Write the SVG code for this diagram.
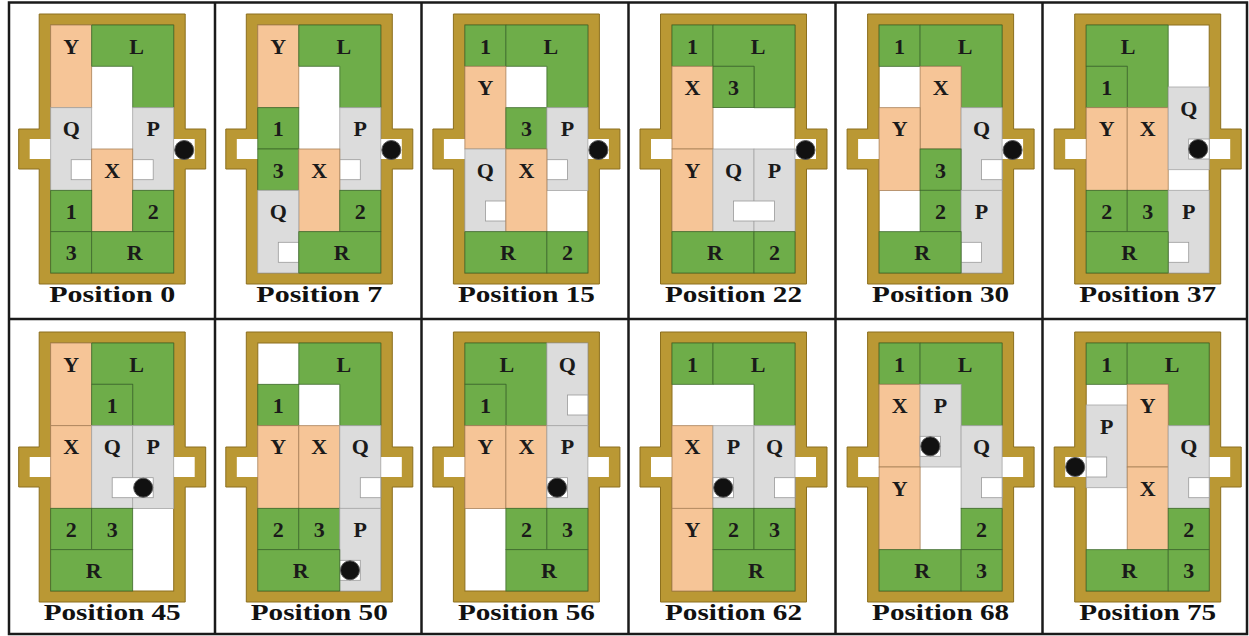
<svg xmlns="http://www.w3.org/2000/svg" width="1249" height="636" viewBox="0 0 1249 636">
<style>
.g{fill:#6EAD49;stroke:#3E6A2C;stroke-width:0.8}
.o{fill:#F6C597;stroke:#A98058;stroke-width:0.8}
.q{fill:#DCDCDC;stroke:#A6A6A6;stroke-width:0.8}
.n{fill:#FFFFFF;stroke:#9A9A9A;stroke-width:0.8}
.fr{fill:#BA9834;stroke:#8C6F1E;stroke-width:1}
.bd{fill:#FFFFFF;stroke:#8C6F1E;stroke-width:1}
.hole{fill:#FFFFFF}
.t{font-family:'Liberation Serif',serif;font-weight:700;font-size:22px;text-anchor:middle;fill:#1A1A1A}
.cap{font-family:'Liberation Serif',serif;font-weight:700;font-size:24px;text-anchor:middle;fill:#111}
.ball{fill:#111;stroke:#555;stroke-width:1}
.grid{stroke:#1A1A1A;stroke-width:2.5;fill:none}
</style>
<defs>
<g id="frame">
<path class="fr" d="M-11.5,-11 H134.5 V104 H155 V144 H134.5 V259 H-11.5 V144 H-32 V104 H-11.5 Z"/>
<rect class="bd" x="0" y="0" width="123" height="248"/>
<rect class="hole" x="-21" y="114" width="21.5" height="20"/>
<rect class="hole" x="122.5" y="114" width="21.5" height="20"/>
</g>
<path id="Ls" class="g" d="M41,0 H123 V82.7 H82 V41.3 H41 Z"/>
<path id="Lm" class="g" d="M0,0 H82 V82.7 H41 V41.3 H0 Z"/>
<circle id="ball" class="ball" r="9.5"/>
</defs>

<g id="table" class="grid">
<rect x="9" y="2.5" width="1238" height="631.5"/>
<line x1="9" y1="319" x2="1247" y2="319"/>
<line x1="215" y1="2.5" x2="215" y2="634"/>
<line x1="421.5" y1="2.5" x2="421.5" y2="634"/>
<line x1="628.5" y1="2.5" x2="628.5" y2="634"/>
<line x1="835.5" y1="2.5" x2="835.5" y2="634"/>
<line x1="1042.5" y1="2.5" x2="1042.5" y2="634"/>
</g>

<g id="pos0" transform="translate(50.7,25)">
<use href="#frame"/>
<rect class="o" x="0" y="0" width="41" height="82.7"/>
<use href="#Ls"/>
<rect class="q" x="0" y="82.7" width="41" height="82.7"/>
<rect class="n" x="20.5" y="134.7" width="20.5" height="20"/>
<rect class="q" x="82" y="82.7" width="41" height="82.7"/>
<rect class="n" x="82" y="134.7" width="20.5" height="20"/>
<rect class="o" x="41" y="124" width="41" height="82.7"/>
<rect class="g" x="0" y="165.3" width="41" height="41.3"/>
<rect class="g" x="82" y="165.3" width="41" height="41.3"/>
<rect class="g" x="0" y="206.7" width="41" height="41.3"/>
<rect class="g" x="41" y="206.7" width="82" height="41.3"/>
<text class="t" x="20.5" y="28.5">Y</text><text class="t" x="86" y="28.5">L</text>
<text class="t" x="20.5" y="111">Q</text><text class="t" x="102.5" y="111">P</text>
<text class="t" x="61.5" y="152.5">X</text>
<text class="t" x="20.5" y="194">1</text><text class="t" x="102.5" y="194">2</text>
<text class="t" x="20.5" y="235">3</text><text class="t" x="84" y="235">R</text>
<use href="#ball" x="133.5" y="125"/>
<text class="cap" x="61.5" y="277" textLength="126" lengthAdjust="spacingAndGlyphs">Position 0</text>
</g>

<g id="pos7" transform="translate(257.8,25)">
<use href="#frame"/>
<rect class="o" x="0" y="0" width="41" height="82.7"/>
<use href="#Ls"/>
<rect class="g" x="0" y="82.7" width="41" height="41.3"/>
<rect class="g" x="0" y="124" width="41" height="41.3"/>
<rect class="q" x="82" y="82.7" width="41" height="82.7"/>
<rect class="n" x="82" y="134.7" width="20.5" height="20"/>
<rect class="o" x="41" y="124" width="41" height="82.7"/>
<rect class="q" x="0" y="165.3" width="41" height="82.7"/>
<rect class="n" x="20.5" y="217.3" width="20.5" height="20"/>
<rect class="g" x="82" y="165.3" width="41" height="41.3"/>
<rect class="g" x="41" y="206.7" width="82" height="41.3"/>
<text class="t" x="20.5" y="28.5">Y</text><text class="t" x="86" y="28.5">L</text>
<text class="t" x="20.5" y="111">1</text><text class="t" x="102.5" y="111">P</text>
<text class="t" x="20.5" y="152.5">3</text><text class="t" x="61.5" y="152.5">X</text>
<text class="t" x="20.5" y="194">Q</text><text class="t" x="102.5" y="194">2</text>
<text class="t" x="84" y="235">R</text>
<use href="#ball" x="133.5" y="125"/>
<text class="cap" x="61.5" y="277" textLength="126" lengthAdjust="spacingAndGlyphs">Position 7</text>
</g>

<g id="pos15" transform="translate(464.9,25)">
<use href="#frame"/>
<rect class="g" x="0" y="0" width="41" height="41.3"/>
<use href="#Ls"/>
<rect class="o" x="0" y="41.3" width="41" height="82.7"/>
<rect class="g" x="41" y="82.7" width="41" height="41.3"/>
<rect class="q" x="82" y="82.7" width="41" height="82.7"/>
<rect class="n" x="82" y="134.7" width="20.5" height="20"/>
<rect class="q" x="0" y="124" width="41" height="82.7"/>
<rect class="n" x="20.5" y="176" width="20.5" height="20"/>
<rect class="o" x="41" y="124" width="41" height="82.7"/>
<rect class="g" x="0" y="206.7" width="82" height="41.3"/>
<rect class="g" x="82" y="206.7" width="41" height="41.3"/>
<text class="t" x="20.5" y="28.5">1</text><text class="t" x="86" y="28.5">L</text>
<text class="t" x="20.5" y="70">Y</text>
<text class="t" x="61.5" y="111">3</text><text class="t" x="102.5" y="111">P</text>
<text class="t" x="20.5" y="152.5">Q</text><text class="t" x="61.5" y="152.5">X</text>
<text class="t" x="43" y="235">R</text><text class="t" x="102.5" y="235">2</text>
<use href="#ball" x="133.5" y="125"/>
<text class="cap" x="61.5" y="277" textLength="137" lengthAdjust="spacingAndGlyphs">Position 15</text>
</g>

<g id="pos22" transform="translate(672,25)">
<use href="#frame"/>
<rect class="g" x="0" y="0" width="41" height="41.3"/>
<use href="#Ls"/>
<rect class="o" x="0" y="41.3" width="41" height="82.7"/>
<rect class="g" x="41" y="41.3" width="41" height="41.3"/>
<rect class="o" x="0" y="124" width="41" height="82.7"/>
<rect class="q" x="41" y="124" width="41" height="82.7"/>
<rect class="q" x="82" y="124" width="41" height="82.7"/>
<rect class="n" x="61.5" y="176" width="41" height="20"/>
<rect class="g" x="0" y="206.7" width="82" height="41.3"/>
<rect class="g" x="82" y="206.7" width="41" height="41.3"/>
<text class="t" x="20.5" y="28.5">1</text><text class="t" x="86" y="28.5">L</text>
<text class="t" x="20.5" y="70">X</text><text class="t" x="61.5" y="70">3</text>
<text class="t" x="20.5" y="152.5">Y</text><text class="t" x="61.5" y="152.5">Q</text><text class="t" x="102.5" y="152.5">P</text>
<text class="t" x="43" y="235">R</text><text class="t" x="102.5" y="235">2</text>
<use href="#ball" x="133.5" y="125"/>
<text class="cap" x="61.5" y="277" textLength="137" lengthAdjust="spacingAndGlyphs">Position 22</text>
</g>

<g id="pos30" transform="translate(879.1,25)">
<use href="#frame"/>
<rect class="g" x="0" y="0" width="41" height="41.3"/>
<use href="#Ls"/>
<rect class="o" x="41" y="41.3" width="41" height="82.7"/>
<rect class="o" x="0" y="82.7" width="41" height="82.7"/>
<rect class="q" x="82" y="82.7" width="41" height="82.7"/>
<rect class="n" x="102.5" y="134.7" width="20.5" height="20"/>
<rect class="g" x="41" y="124" width="41" height="41.3"/>
<rect class="g" x="41" y="165.3" width="41" height="41.3"/>
<rect class="q" x="82" y="165.3" width="41" height="82.7"/>
<rect class="n" x="82" y="217.3" width="20.5" height="20"/>
<rect class="g" x="0" y="206.7" width="82" height="41.3"/>
<text class="t" x="20.5" y="28.5">1</text><text class="t" x="86" y="28.5">L</text>
<text class="t" x="61.5" y="70">X</text>
<text class="t" x="20.5" y="111">Y</text><text class="t" x="102.5" y="111">Q</text>
<text class="t" x="61.5" y="152.5">3</text>
<text class="t" x="61.5" y="194">2</text><text class="t" x="102.5" y="194">P</text>
<text class="t" x="43" y="235">R</text>
<use href="#ball" x="133.5" y="125"/>
<text class="cap" x="61.5" y="277" textLength="137" lengthAdjust="spacingAndGlyphs">Position 30</text>
</g>

<g id="pos37" transform="translate(1086.2,25)">
<use href="#frame"/>
<use href="#Lm"/>
<rect class="g" x="0" y="41.3" width="41" height="41.3"/>
<rect class="o" x="0" y="82.7" width="41" height="82.7"/>
<rect class="o" x="41" y="82.7" width="41" height="82.7"/>
<rect class="q" x="82" y="62" width="41" height="82.7"/>
<rect class="n" x="102.5" y="114" width="20.5" height="20"/>
<rect class="g" x="0" y="165.3" width="41" height="41.3"/>
<rect class="g" x="41" y="165.3" width="41" height="41.3"/>
<rect class="q" x="82" y="165.3" width="41" height="82.7"/>
<rect class="n" x="82" y="217.3" width="20.5" height="20"/>
<rect class="g" x="0" y="206.7" width="82" height="41.3"/>
<text class="t" x="42" y="28.5">L</text>
<text class="t" x="20.5" y="70">1</text>
<text class="t" x="102.5" y="91">Q</text>
<text class="t" x="20.5" y="111">Y</text><text class="t" x="61.5" y="111">X</text>
<text class="t" x="20.5" y="194">2</text><text class="t" x="61.5" y="194">3</text><text class="t" x="102.5" y="194">P</text>
<text class="t" x="43" y="235">R</text>
<use href="#ball" x="112" y="124"/>
<text class="cap" x="61.5" y="277" textLength="137" lengthAdjust="spacingAndGlyphs">Position 37</text>
</g>

<g id="pos45" transform="translate(50.7,343)">
<use href="#frame"/>
<rect class="o" x="0" y="0" width="41" height="82.7"/>
<use href="#Ls"/>
<rect class="g" x="41" y="41.3" width="41" height="41.3"/>
<rect class="o" x="0" y="82.7" width="41" height="82.7"/>
<rect class="q" x="41" y="82.7" width="41" height="82.7"/>
<rect class="q" x="82" y="82.7" width="41" height="82.7"/>
<rect class="n" x="61.5" y="134.7" width="41" height="20"/>
<rect class="g" x="0" y="165.3" width="41" height="41.3"/>
<rect class="g" x="41" y="165.3" width="41" height="41.3"/>
<rect class="g" x="0" y="206.7" width="82" height="41.3"/>
<text class="t" x="20.5" y="28.5">Y</text><text class="t" x="86" y="28.5">L</text>
<text class="t" x="61.5" y="70">1</text>
<text class="t" x="20.5" y="111">X</text><text class="t" x="61.5" y="111">Q</text><text class="t" x="102.5" y="111">P</text>
<text class="t" x="20.5" y="194">2</text><text class="t" x="61.5" y="194">3</text>
<text class="t" x="43" y="235">R</text>
<use href="#ball" x="92.5" y="144.7"/>
<text class="cap" x="61.5" y="277" textLength="137" lengthAdjust="spacingAndGlyphs">Position 45</text>
</g>

<g id="pos50" transform="translate(257.8,343)">
<use href="#frame"/>
<use href="#Ls"/>
<rect class="g" x="0" y="41.3" width="41" height="41.3"/>
<rect class="o" x="0" y="82.7" width="41" height="82.7"/>
<rect class="o" x="41" y="82.7" width="41" height="82.7"/>
<rect class="q" x="82" y="82.7" width="41" height="82.7"/>
<rect class="n" x="102.5" y="134.7" width="20.5" height="20"/>
<rect class="g" x="0" y="165.3" width="41" height="41.3"/>
<rect class="g" x="41" y="165.3" width="41" height="41.3"/>
<rect class="q" x="82" y="165.3" width="41" height="82.7"/>
<rect class="n" x="82" y="217.3" width="20.5" height="20"/>
<rect class="g" x="0" y="206.7" width="82" height="41.3"/>
<text class="t" x="86" y="28.5">L</text>
<text class="t" x="20.5" y="70">1</text>
<text class="t" x="20.5" y="111">Y</text><text class="t" x="61.5" y="111">X</text><text class="t" x="102.5" y="111">Q</text>
<text class="t" x="20.5" y="194">2</text><text class="t" x="61.5" y="194">3</text><text class="t" x="102.5" y="194">P</text>
<text class="t" x="43" y="235">R</text>
<use href="#ball" x="92.2" y="227.3"/>
<text class="cap" x="61.5" y="277" textLength="137" lengthAdjust="spacingAndGlyphs">Position 50</text>
</g>

<g id="pos56" transform="translate(464.9,343)">
<use href="#frame"/>
<use href="#Lm"/>
<rect class="q" x="82" y="0" width="41" height="82.7"/>
<rect class="n" x="102.5" y="52" width="20.5" height="20"/>
<rect class="g" x="0" y="41.3" width="41" height="41.3"/>
<rect class="o" x="0" y="82.7" width="41" height="82.7"/>
<rect class="o" x="41" y="82.7" width="41" height="82.7"/>
<rect class="q" x="82" y="82.7" width="41" height="82.7"/>
<rect class="n" x="82" y="134.7" width="20.5" height="20"/>
<rect class="g" x="41" y="165.3" width="41" height="41.3"/>
<rect class="g" x="82" y="165.3" width="41" height="41.3"/>
<rect class="g" x="41" y="206.7" width="82" height="41.3"/>
<text class="t" x="42" y="28.5">L</text><text class="t" x="102.5" y="28.5">Q</text>
<text class="t" x="20.5" y="70">1</text>
<text class="t" x="20.5" y="111">Y</text><text class="t" x="61.5" y="111">X</text><text class="t" x="102.5" y="111">P</text>
<text class="t" x="61.5" y="194">2</text><text class="t" x="102.5" y="194">3</text>
<text class="t" x="84" y="235">R</text>
<use href="#ball" x="92.2" y="144.7"/>
<text class="cap" x="61.5" y="277" textLength="137" lengthAdjust="spacingAndGlyphs">Position 56</text>
</g>

<g id="pos62" transform="translate(672,343)">
<use href="#frame"/>
<rect class="g" x="0" y="0" width="41" height="41.3"/>
<use href="#Ls"/>
<rect class="o" x="0" y="82.7" width="41" height="82.7"/>
<rect class="q" x="41" y="82.7" width="41" height="82.7"/>
<rect class="n" x="41" y="134.7" width="20.5" height="20"/>
<rect class="q" x="82" y="82.7" width="41" height="82.7"/>
<rect class="n" x="102.5" y="134.7" width="20.5" height="20"/>
<rect class="o" x="0" y="165.3" width="41" height="82.7"/>
<rect class="g" x="41" y="165.3" width="41" height="41.3"/>
<rect class="g" x="82" y="165.3" width="41" height="41.3"/>
<rect class="g" x="41" y="206.7" width="82" height="41.3"/>
<text class="t" x="20.5" y="28.5">1</text><text class="t" x="86" y="28.5">L</text>
<text class="t" x="20.5" y="111">X</text><text class="t" x="61.5" y="111">P</text><text class="t" x="102.5" y="111">Q</text>
<text class="t" x="20.5" y="194">Y</text><text class="t" x="61.5" y="194">2</text><text class="t" x="102.5" y="194">3</text>
<text class="t" x="84" y="235">R</text>
<use href="#ball" x="51.2" y="144.7"/>
<text class="cap" x="61.5" y="277" textLength="137" lengthAdjust="spacingAndGlyphs">Position 62</text>
</g>

<g id="pos68" transform="translate(879.1,343)">
<use href="#frame"/>
<rect class="g" x="0" y="0" width="41" height="41.3"/>
<use href="#Ls"/>
<rect class="o" x="0" y="41.3" width="41" height="82.7"/>
<rect class="q" x="41" y="41.3" width="41" height="82.7"/>
<rect class="n" x="41" y="93.3" width="20.5" height="20"/>
<rect class="q" x="82" y="82.7" width="41" height="82.7"/>
<rect class="n" x="102.5" y="134.7" width="20.5" height="20"/>
<rect class="o" x="0" y="124" width="41" height="82.7"/>
<rect class="g" x="82" y="165.3" width="41" height="41.3"/>
<rect class="g" x="0" y="206.7" width="82" height="41.3"/>
<rect class="g" x="82" y="206.7" width="41" height="41.3"/>
<text class="t" x="20.5" y="28.5">1</text><text class="t" x="86" y="28.5">L</text>
<text class="t" x="20.5" y="70">X</text><text class="t" x="61.5" y="70">P</text>
<text class="t" x="102.5" y="111">Q</text>
<text class="t" x="20.5" y="152.5">Y</text>
<text class="t" x="102.5" y="194">2</text>
<text class="t" x="43" y="235">R</text><text class="t" x="102.5" y="235">3</text>
<use href="#ball" x="51.2" y="103.3"/>
<text class="cap" x="61.5" y="277" textLength="137" lengthAdjust="spacingAndGlyphs">Position 68</text>
</g>

<g id="pos75" transform="translate(1086.2,343)">
<use href="#frame"/>
<rect class="g" x="0" y="0" width="41" height="41.3"/>
<use href="#Ls"/>
<rect class="q" x="0" y="62" width="41" height="82.7"/>
<rect class="n" x="0" y="114" width="20.5" height="20"/>
<rect class="o" x="41" y="41.3" width="41" height="82.7"/>
<rect class="o" x="41" y="124" width="41" height="82.7"/>
<rect class="q" x="82" y="82.7" width="41" height="82.7"/>
<rect class="n" x="102.5" y="134.7" width="20.5" height="20"/>
<rect class="g" x="82" y="165.3" width="41" height="41.3"/>
<rect class="g" x="0" y="206.7" width="82" height="41.3"/>
<rect class="g" x="82" y="206.7" width="41" height="41.3"/>
<text class="t" x="20.5" y="28.5">1</text><text class="t" x="86" y="28.5">L</text>
<text class="t" x="61.5" y="70">Y</text>
<text class="t" x="20.5" y="91">P</text>
<text class="t" x="102.5" y="111">Q</text>
<text class="t" x="61.5" y="152.5">X</text>
<text class="t" x="102.5" y="194">2</text>
<text class="t" x="43" y="235">R</text><text class="t" x="102.5" y="235">3</text>
<use href="#ball" x="-11" y="124"/>
<text class="cap" x="61.5" y="277" textLength="137" lengthAdjust="spacingAndGlyphs">Position 75</text>
</g>
</svg>
